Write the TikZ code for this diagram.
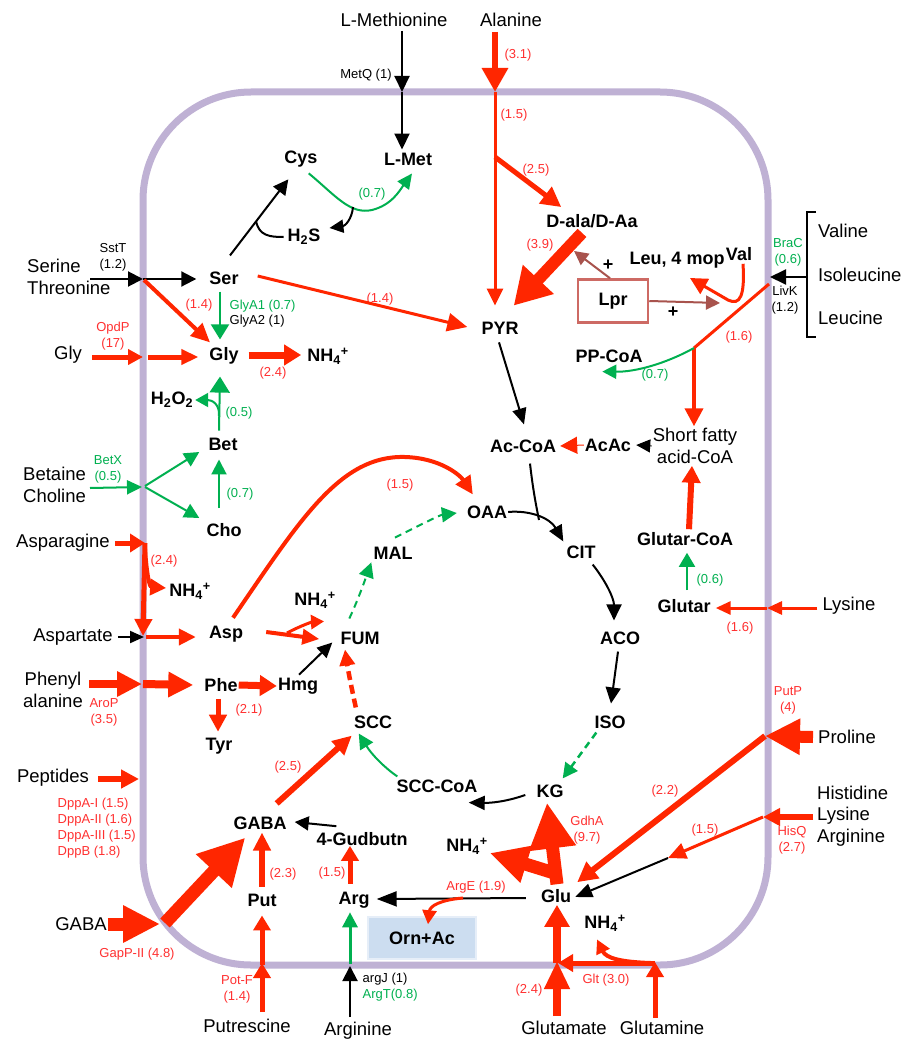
\documentclass[tikz,border=0pt]{standalone}
\usepackage{fontspec}
\setmainfont{Liberation Sans}
\usetikzlibrary{arrows.meta,calc}
\definecolor{rd}{HTML}{FF2600}
\definecolor{rt}{HTML}{FF3030}
\definecolor{gn}{HTML}{00B050}
\definecolor{mem}{HTML}{BFB1D4}
\definecolor{brn}{HTML}{A8534D}
\definecolor{lprc}{HTML}{CD6A64}
\definecolor{ornf}{HTML}{CCDDF0}
\newcommand{\nhf}{NH\textsubscript{4}\textsuperscript{+}}
\begin{document}
\begin{tikzpicture}[x=1pt,y=-1pt,
 bnd/.style={font=\fontsize{18}{20}\selectfont\bfseries, inner sep=1pt},
 onm/.style={font=\fontsize{18.5}{21.5}\selectfont, inner sep=1pt, align=center},
 labR/.style={font=\fontsize{13}{16}\selectfont, text=rt, inner sep=0.5pt, align=center},
 labG/.style={labR, text=gn},
 labK/.style={labR, text=black},
 arR/.style n args={3}{draw=rd, line width=#1pt, -{Triangle[length=#2pt,width=#3pt]}},
 arK/.style n args={3}{draw=black, line width=#1pt, -{Triangle[length=#2pt,width=#3pt]}},
 arG/.style n args={3}{draw=gn, line width=#1pt, -{Triangle[length=#2pt,width=#3pt]}},
 arB/.style={draw=brn, line width=2pt, -{Triangle[length=14pt,width=14pt]}},
 dsh/.style={dash pattern=on 7pt off 5pt},
 dshR/.style={dash pattern=on 9pt off 5pt},
]
\useasboundingbox (0,0) rectangle (908,1051);
\fill[white] (0,0) rectangle (908,1051);
\draw[mem, line width=7pt, rounded corners=108pt] (143,92) rectangle (768,965);

% membrane points
\coordinate (mMet) at (402,92);
\coordinate (mAla) at (495,92);
\coordinate (mSer) at (143,279);
\coordinate (mGly) at (143,357);
\coordinate (mBet) at (142,487);
\coordinate (mAsn) at (145,543);
\coordinate (mAsp) at (144,637);
\coordinate (mPhe) at (142,684);
\coordinate (mPep) at (139,779);
\coordinate (mGab) at (160,924);
\coordinate (mPut) at (262,963);
\coordinate (mArg) at (350,966);
\coordinate (mGlu) at (557,961);
\coordinate (mGln) at (655,962);
\coordinate (mHis) at (763,817);
\coordinate (mPro) at (765,736);
\coordinate (mLys) at (767,608);
\coordinate (mBr) at (769,284);
\coordinate (mBrk) at (770,277);

% outside names
\node[onm] (lmeth) at (394,20) {L-Methionine};
\node[onm] (alan) at (511,20) {Alanine};
\node[onm, anchor=west, align=left] (serthr) at (26,277) {Serine\\Threonine};
\node[onm] (glyo) at (68,355) {Gly};
\node[onm, anchor=west, align=left] (betcho) at (22,485) {Betaine\\Choline};
\node[onm] (asn) at (63,543) {Asparagine};
\node[onm] (aspo) at (73,637) {Aspartate};
\node[onm] (phea) at (53,690) {Phenyl\\alanine};
\node[onm] (pep) at (53,778) {Peptides};
\node[onm] (gabao) at (81,924) {GABA};
\node[onm] (putr) at (247,1026) {Putrescine};
\node[onm] (argo) at (358,1031) {Arginine};
\node[onm] (glut) at (564,1028) {Glutamate};
\node[onm] (glnn) at (662,1028) {Glutamine};
\node[onm, anchor=west, align=left] (hla) at (816,816) {Histidine\\Lysine\\Arginine};
\node[onm] (pro) at (847,737) {Proline};
\node[onm] (lyso) at (849,606) {Lysine};
\node[onm, anchor=west] (valo) at (817,231) {Valine};
\node[onm, anchor=west] (ileo) at (817,275) {Isoleucine};
\node[onm, anchor=west] (leuo) at (817,318) {Leucine};

% inner nodes
\node[bnd] (lmet) at (408,159) {L-Met};
\node[bnd] (cys) at (301,159) {Cys};
\node[bnd] (h2s) at (304,237) {H\textsubscript{2}S};
\node[bnd] (ser) at (224,278) {Ser};
\node[bnd] (gly) at (224,356) {Gly};
\node[bnd] (nh4a) at (328,356) {\nhf};
\node[bnd] (h2o2) at (172,400) {H\textsubscript{2}O\textsubscript{2}};
\node[bnd] (bet) at (223,444) {Bet};
\node[bnd] (cho) at (224,530) {Cho};
\node[bnd] (nh4b) at (190,591) {\nhf};
\node[bnd] (asp) at (226,634) {Asp};
\node[bnd] (nh4c) at (315,600) {\nhf};
\node[bnd] (phe) at (221,685) {Phe};
\node[bnd] (hmg) at (298,686) {Hmg};
\node[bnd] (tyr) at (219,746) {Tyr};
\node[bnd] (gabai) at (260,823) {GABA};
\node[bnd] (gud) at (362,839) {4-Gudbutn};
\node[bnd] (put) at (262,900) {Put};
\node[bnd] (arg) at (354,900) {Arg};
\node[bnd, fill=ornf, draw=ornf!50!white, line width=1.5pt, minimum width=108pt, minimum height=42pt] (orn) at (422,938) {Orn+Ac};
\node[bnd] (glu) at (556,896) {Glu};
\node[bnd] (nh4d) at (467,846) {\nhf};
\node[bnd] (nh4e) at (605,923) {\nhf};
\node[bnd] (kg) at (550,791) {KG};
\node[bnd] (scccoa) at (437,786) {SCC-CoA};
\node[bnd] (scc) at (373,722) {SCC};
\node[bnd] (fum) at (360,638) {FUM};
\node[bnd] (mal) at (393,553) {MAL};
\node[bnd] (oaa) at (487,512) {OAA};
\node[bnd] (cit) at (581,552) {CIT};
\node[bnd] (aco) at (620,638) {ACO};
\node[bnd] (iso) at (610,722) {ISO};
\node[bnd] (acoa) at (523,446) {Ac-CoA};
\node[bnd] (acac) at (608,445) {AcAc};
\node[onm] (sfa) at (695,446) {Short fatty\\acid-CoA};
\node[bnd] (glcoa) at (685,539) {Glutar-CoA};
\node[bnd] (glutr) at (684,606) {Glutar};
\node[bnd] (ppcoa) at (609,356) {PP-CoA};
\node[bnd] (pyr) at (500,328) {PYR};
\node[bnd] (dala) at (592,221) {D-ala/D-Aa};
\node[bnd] (leu) at (677,260) {Leu, 4 mop};
\node[bnd] (val) at (739,254) {Val};
\node[bnd, draw=lprc, line width=2.5pt, minimum width=70pt, minimum height=43pt] (lpr) at (613,301) {Lpr};

% labels
\node[labK] at (366,75) {MetQ (1)};
\node[labR] at (518,55) {(3.1)};
\node[labR] at (514,115) {(1.5)};
\node[labR] at (536,170) {(2.5)};
\node[labR] at (540,245) {(3.9)};
\node[bnd] (plus1) at (608,265) {+};
\node[bnd] (plus2) at (673,312) {+};
\node[labR] at (739,337) {(1.6)};
\node[labG] at (655,375) {(0.7)};
\node[labG] at (788,252) {BraC\\(0.6)};
\node[labK] at (785,300) {LivK\\(1.2)};
\node[labG] at (372,194) {(0.7)};
\node[labK] at (113,257) {SstT\\(1.2)};
\node[labR] at (199,305) {(1.4)};
\node[labG, anchor=west] at (229,306) {GlyA1 (0.7)};
\node[labK, anchor=west] at (229,321) {GlyA2 (1)};
\node[labR] at (380,299) {(1.4)};
\node[labR] at (113,336) {OpdP\\(17)};
\node[labR] at (273,373) {(2.4)};
\node[labG] at (239,413) {(0.5)};
\node[labG] at (240,494) {(0.7)};
\node[labG] at (108,469) {BetX\\(0.5)};
\node[labR] at (164,561) {(2.4)};
\node[labR] at (104,712) {AroP\\(3.5)};
\node[labR] at (249,710) {(2.1)};
\node[labR] at (400,485) {(1.5)};
\node[labR, anchor=north west, align=left] at (57,797) {DppA-I (1.5)\\DppA-II (1.6)\\DppA-III (1.5)\\DppB (1.8)};
\node[labR] at (137,954) {GapP-II (4.8)};
\node[labR] at (288,767) {(2.5)};
\node[labR] at (283,874) {(2.3)};
\node[labR] at (332,873) {(1.5)};
\node[labR] at (237,989) {Pot-F\\(1.4)};
\node[labK, anchor=west] at (362,979) {argJ (1)};
\node[labG, anchor=west] at (362,995) {ArgT(0.8)};
\node[labR] at (476,887) {ArgE (1.9)};
\node[labR] at (587,830) {GdhA\\(9.7)};
\node[labR] at (665,791) {(2.2)};
\node[labR] at (788,700) {PutP\\(4)};
\node[labR] at (705,830) {(1.5)};
\node[labR] at (792,840) {HisQ\\(2.7)};
\node[labR] at (529,990) {(2.4)};
\node[labR] at (606,980) {Glt (3.0)};
\node[labG] at (710,580) {(0.6)};
\node[labR] at (740,628) {(1.6)};

% ---- connectors ----
% methionine
\draw[arK={2}{16}{15}] ($(lmeth.south -| mMet)+(0,3)$) -- (mMet);
\draw[arK={2}{16}{15}] (mMet) -- ($(lmet.north -| mMet)+(0,-2)$);
% alanine
\draw[arR={6}{24}{25}] ($(alan.south -| mAla)+(0,4)$) -- (mAla);
\coordinate (aBr) at (495,157);
\draw[rd, line width=3pt] (mAla) -- (aBr);
\draw[arR={3}{17}{16}] (aBr) -- ($(pyr.north -| aBr)+(0,-15)$);
\draw[arR={5}{20}{20}] (aBr) -- ($(dala.north west)+(16,-6)$);
\draw[arR={12}{36}{40}] ($(dala.south)+(-10,4)$) -- ($(pyr.north east)+(-6,-15)$);
% Lpr
\coordinate (lprT) at (574,251);
\coordinate (lprR) at (720,303);
\draw[arB] ($(lpr.north)+(-3,0)$) -- (lprT);
\draw[arB] (lpr.east) -- (lprR);
% branched chain
\coordinate (jBr) at (694,348);
\coordinate (leuT) at (690,278);
\coordinate (valK) at (728,300);
\draw[rd, line width=3pt] (mBr) -- (jBr);
\draw[arR={4}{18}{18}] (jBr) -- ($(sfa.north -| jBr)+(0,-1)$);
\draw[arR={3}{17}{17}] ($(val.south)+(4,2)$) .. controls (745,296) and (740,306) .. (valK) -- (leuT);
\draw[arG={2}{14}{14}] (jBr) .. controls (665,364) and (635,372) .. ($(ppcoa.south west)+(28,8)$);
\draw[line width=2pt] (816,212) -- (807,212) -- (807,337) -- (816,337);
\coordinate (brk) at (807,277);
\draw[arK={2}{16}{15}] (brk) -- (mBrk);
% serine
\draw[arK={2}{15}{15}] ($(mSer)+(-53,0)$) -- (mSer);
\draw[arK={2}{15}{15}] (mSer) -- ($(ser.west)+(-12,1)$);
\draw[arR={4}{19}{17}] ($(mSer)+(1,1)$) -- ($(gly.north)+(-14,-4)$);
\draw[arG={2}{15}{18}] ($(ser.south)+(-4,6)$) -- ($(gly.north)+(-4,-7)$);
\draw[arR={3}{20}{18}] ($(ser.east)+(18,-2)$) -- ($(pyr.west)+(-13,-1)$);
% cys
\draw[arK={2}{15}{15}] ($(ser.north)+(6,-15)$) -- ($(cys.south west)+(5,11)$);
\coordinate (h2sS) at (256,221);
\draw[line width=2pt] (h2sS) .. controls (259,236) and (270,237) .. ($(h2s.west)+(-3,0)$);
\draw[arG={2}{15}{14}] ($(cys.south east)+(-10,5)$) .. controls (335,195) and (350,215) .. (372,210) .. controls (392,205) and (400,190) .. ($(lmet.south)+(4,7)$);
\coordinate (gcP) at (353,207);
\draw[arK={2}{14}{13}] (gcP) .. controls (352,219) and (345,226) .. ($(h2s.east)+(8,-9)$);
% glycine
\draw[arR={5}{15}{15}] ($(mGly)+(-51,0)$) -- (mGly);
\draw[arR={5}{17}{15}] ($(mGly)+(5,0)$) -- ($(gly.west)+(-10,1)$);
\draw[arR={7}{17}{20}] ($(gly.east)+(9,-1)$) -- ($(nh4a.west)+(-5,-1)$);
% betaine
\draw[arG={2}{16}{20}] ($(bet.north)+(-4,-6)$) -- ($(gly.south)+(-4,11)$);
\draw[arG={2}{13}{14}] ($(bet.north)+(-4,-20)$) .. controls (220,404) and (212,400) .. ($(h2o2.east)+(1,0)$);
\draw[arG={2}{15}{15}] ($(cho.north)+(-5,-14)$) -- ($(bet.south)+(-4,8)$);
\draw[arG={2}{15}{14}] ($(mBet)+(-52,1)$) -- (mBet);
\draw[arG={2}{15}{15}] ($(mBet)+(3,-1)$) -- ($(bet.west)+(-8,8)$);
\draw[arG={2}{15}{15}] ($(mBet)+(3,0)$) -- ($(cho.west)+(-6,-12)$);
% asparagine / aspartate
\draw[arR={5}{15}{18}] ($(asn.east)+(4,0)$) -- (mAsn);
\draw[arR={5}{17}{17}] (mAsn) -- ($(mAsp)+(-1,-1)$);
\draw[arR={4}{16}{16}] ($(mAsn)+(0,6)$) .. controls (147,578) and (150,587) .. ($(nh4b.west)+(-2,-3)$);
\draw[arK={2}{14}{12}] ($(aspo.east)+(4,0)$) -- (mAsp);
\draw[arR={4}{17}{16}] ($(mAsp)+(2,0)$) -- ($(asp.west)+(-12,3)$);
\draw[arR={4}{17}{15}] ($(asp.east)+(22,-2)$) -- ($(fum.west)+(-20,1)$);
\coordinate (aspB) at (287,633);
\draw[arR={3}{13}{14}] (aspB) .. controls (300,626) and (312,622) .. ($(nh4c.south)+(9,12)$);
\draw[arR={4}{18}{17}] ($(asp.north)+(7,-7)$) .. controls (300,520) and (340,455) .. (405,457) .. controls (440,458) and (460,475) .. ($(oaa.north west)+(7,-10)$);
% phenylalanine
\draw[arR={8}{25}{24}] ($(mPhe)+(-53,0)$) -- (mPhe);
\draw[arR={8}{25}{24}] ($(mPhe)+(1,0)$) -- ($(phe.west)+(-10,0)$);
\draw[arR={7}{17}{20}] (phe.east) -- (hmg.west);
\draw[arR={5}{17}{17}] ($(phe.south)+(-3,6)$) -- ($(tyr.north)+(-1,-5)$);
\draw[arK={2}{15}{14}] ($(hmg.north)+(1,-2)$) -- ($(fum.south west)+(-7,-3)$);
% peptides
\draw[arR={6}{18}{18}] ($(mPep)+(-41,0)$) -- (mPep);
% TCA cycle
\draw[arK={2}{16}{14}] (oaa.east) .. controls (530,510) and (550,518) .. ($(cit.north west)+(-2,-3)$);
\coordinate (acj) at (539,520);
\draw[line width=2pt] ($(acoa.south)+(7,10)$) .. controls (533,490) and (536,505) .. (acj);
\draw[arK={2}{16}{15}] ($(cit.south east)+(-4,5)$) .. controls (605,580) and (614,598) .. ($(aco.north)+(-6,-10)$);
\draw[arK={2}{16}{15}] ($(aco.south)+(-2,6)$) -- ($(iso.north)+(1,-11)$);
\draw[arG={2.5}{15}{15}, dsh] ($(iso.south west)+(3,3)$) -- ($(kg.north east)+(-2,-5)$);
\draw[arK={2}{16}{14}] ($(kg.west)+(-10,4)$) .. controls (505,802) and (490,803) .. ($(scccoa.south east)+(-10,9)$);
\draw[arG={2}{15}{15}] ($(scccoa.north west)+(2,-2)$) .. controls (385,768) and (372,755) .. ($(scc.south west)+(6,4)$);
\draw[arR={4.5}{16}{15}, dshR] ($(scc.north west)+(3,-7)$) .. controls (352,690) and (348,670) .. ($(fum.south)+(-15,4)$);
\draw[arG={2}{15}{15}, dsh] ($(fum.north west)+(10,-12)$) .. controls (358,600) and (365,580) .. ($(mal.south west)+(-1,2)$);
\draw[arG={2}{15}{15}, dsh] ($(mal.north)+(2,-8)$) .. controls (420,525) and (440,515) .. ($(oaa.west)+(-9,1)$);
% PYR / Ac-CoA
\draw[arK={2}{16}{14}] ($(pyr.south)+(-1,7)$) -- ($(acoa.north)+(1,-14)$);
\draw[rd, line width=1pt, -{Triangle[length=17pt,width=17pt]}] (acac.west) -- ($(acoa.east)+(3,0)$);
\draw[black, line width=1pt, -{Triangle[length=14pt,width=13pt]}] (sfa.west) -- ($(acac.east)+(4,0)$);
% glutarate / lysine
\draw[arR={3}{15}{13}] ($(lyso.west)+(-4,2)$) -- (mLys);
\draw[arR={3}{15}{13}] (mLys) -- ($(glutr.east)+(4,2)$);
\draw[arG={2}{14}{16}] ($(glutr.north)+(3,-8)$) -- ($(glcoa.south)+(2,6)$);
\draw[arR={6}{17}{18}] ($(glcoa.north)+(4,-2)$) -- ($(sfa.south)+(-3,1)$);
% GABA
\draw[arR={13}{37}{35}] (gabao.east) -- (mGab);
\draw[arR={13}{46}{46}] ($(mGab)+(5,-1)$) -- ($(gabai.south west)+(13,7)$);
\draw[arR={6}{19}{18}] ($(gabai.north east)+(-11,-12)$) -- ($(scc.south west)+(-1,6)$);
\draw[arK={2}{14}{14}] ($(gud.north west)+(21,-5)$) -- ($(gabai.east)+(7,-1)$);
\draw[arR={6}{18}{17}] ($(put.north)+(0,-6)$) -- ($(gabai.south)+(2,2)$);
\draw[arR={5}{15}{17}] ($(putr.north -| mPut)+(0,-6)$) -- (mPut);
\draw[arR={5}{15}{17}] ($(mPut)+(0,2)$) -- ($(put.south)+(0,8)$);
% arginine
\draw[arR={5}{15}{17}] ($(arg.north)+(-4,-7)$) -- ($(gud.south)+(-12,-1)$);
\draw[arK={2}{15}{15}] ($(argo.north -| mArg)+(0,-4)$) -- (mArg);
\draw[arG={3}{15}{15}] ($(mArg)+(0,-2)$) -- ($(arg.south -| mArg)+(0,3)$);
\draw[arK={2}{20}{15}] ($(glu.west)+(-14,2)$) -- ($(arg.east)+(6,-1)$);
\coordinate (argeS) at (463,898);
\draw[arR={3}{14}{14}] (argeS) .. controls (440,900) and (430,906) .. ($(orn.north)+(6,8)$);
% GdhA
\draw[arR={13}{46}{44}] ($(glu.north)+(1,-4)$) -- ($(kg.south)+(-3,4)$);
\draw[arR={13}{38}{36}] ($(glu.north)+(2,-14)$) -- ($(nh4d.east)+(1,7)$);
% proline
\draw[arR={12}{35}{34}] ($(pro.west)+(-4,0)$) -- (mPro);
\draw[arR={6}{20}{20}] (mPro) -- ($(glu.north east)+(5,-6)$);
% histidine lysine arginine
\draw[arR={6}{17}{17}] ($(hla.west)+(-3,1)$) -- (mHis);
\coordinate (hj) at (668,858);
\draw[arR={3}{18}{16}] (mHis) -- (hj);
\draw[arK={2}{17}{14}] (hj) -- ($(glu.east)+(3,1)$);
% glutamate / glutamine
\draw[arR={8}{28}{24}] ($(glut.north -| mGlu)+(0,-4)$) -- (mGlu);
\draw[arR={8}{22}{24}] ($(mGlu)+(0,2)$) -- ($(glu.south)+(1,1)$);
\draw[arR={5}{15}{17}] ($(glnn.north -| mGln)+(0,-2)$) -- (mGln);
\draw[arR={5}{15}{17}] ($(mGln)+(0,1)$) -- ($(mGlu)+(1,2)$);
\draw[arR={4}{14}{14}] ($(mGln)+(-4,1)$) .. controls (620,962) and (606,958) .. ($(nh4e.south)+(-8,7)$);
\end{tikzpicture}
\end{document}
